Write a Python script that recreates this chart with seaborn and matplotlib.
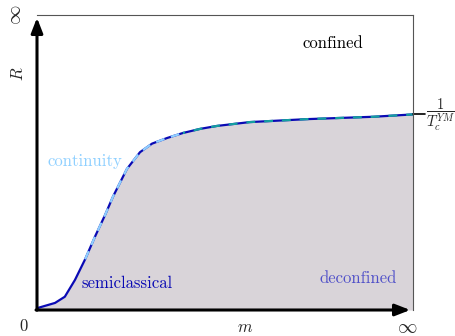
import matplotlib
matplotlib.use("Agg")
import matplotlib.pyplot as plt
import seaborn as sns
import numpy as np

sns.set_style("white")
plt.rcParams['font.family'] = ['serif']
plt.rcParams['font.serif'] = ['cmr10', 'DejaVu Serif']
plt.rcParams['mathtext.fontset'] = 'cm'
plt.rcParams['axes.unicode_minus'] = False

# phase boundary R(m) (axes scaled 0..1)
m_vals = [0.0, 0.005, 0.048, 0.074, 0.101, 0.128, 0.154, 0.181, 0.202, 0.239,
          0.274, 0.306, 0.346, 0.388, 0.434, 0.479, 0.566, 0.718, 0.894, 1.0]
r_vals = [0.005, 0.008, 0.024, 0.045, 0.102, 0.172, 0.248, 0.322, 0.384, 0.478,
          0.535, 0.564, 0.583, 0.600, 0.614, 0.624, 0.637, 0.647, 0.655, 0.663]
m_vals = np.array(m_vals)
r_vals = np.array(r_vals)

fig = plt.figure(figsize=(4.56, 3.36), dpi=100)
ax = fig.add_axes([37 / 456, 26 / 336, 376 / 456, 295 / 336])

ax.fill_between(m_vals, 0, r_vals, color="#d9d4d9", lw=0)
sns.lineplot(x=m_vals, y=r_vals, ax=ax, color="#0a0ab4", lw=1.6, sort=False)

cont = (m_vals >= 0.128) & (m_vals <= 0.40)
ax.plot(m_vals[cont], r_vals[cont], color="#8fd0ff", lw=1.6, ls=(0, (4, 3)))
conf = m_vals >= 0.388
ax.plot(m_vals[conf], r_vals[conf], color="#14a0a0", lw=1.6, ls=(3, (4, 4)))

ax.set_xlim(0, 1)
ax.set_ylim(0, 1)
ax.set_xticks([])
ax.set_yticks([])
for s in ["top", "right"]:
    ax.spines[s].set_color("#555555")
    ax.spines[s].set_linewidth(0.8)
ax.spines["left"].set_visible(False)
ax.spines["bottom"].set_visible(False)

# thick axes with arrows
ax.annotate("", xy=(0, 1.0), xytext=(0, -0.01), xycoords="axes fraction",
            arrowprops=dict(arrowstyle="-|>,head_length=0.9,head_width=0.35",
                            color="black", lw=2.2), annotation_clip=False)
ax.annotate("", xy=(1.0, 0), xytext=(-0.01, 0), xycoords="axes fraction",
            arrowprops=dict(arrowstyle="-|>,head_length=0.9,head_width=0.35",
                            color="black", lw=2.2), annotation_clip=False)

# tick at 1/T_c^YM
ax.plot([1.0, 1.032], [r_vals[-1], r_vals[-1]], color="black", lw=1.2, clip_on=False)
ax.text(1.034, r_vals[-1], r"$\dfrac{1}{T_c^{YM}}$", fontsize=10.5, va="center",
        ha="left", transform=ax.transData)

ax.text(-0.035, -0.03, "0", fontsize=12, ha="center", va="top", transform=ax.transAxes)
ax.text(-0.055, 1.0, r"$\infty$", fontsize=14, ha="center", va="center",
        rotation=90, transform=ax.transAxes)
ax.text(0.985, -0.06, r"$\infty$", fontsize=14, ha="center", va="center",
        transform=ax.transAxes)
ax.text(-0.05, 0.80, r"$R$", fontsize=12, ha="center", va="center", rotation=90,
        transform=ax.transAxes)
ax.text(0.553, -0.06, r"$m$", fontsize=12, ha="center", va="center",
        transform=ax.transAxes)

ax.text(0.787, 0.905, "confined", fontsize=12, ha="center", va="center", color="black")
ax.text(0.128, 0.505, "continuity", fontsize=12, ha="center", va="center", color="#8fd0ff")
ax.text(0.24, 0.09, "semiclassical", fontsize=12, ha="center", va="center", color="#0a0ab4")
ax.text(0.853, 0.108, "deconfined", fontsize=12, ha="center", va="center", color="#5050c8")

fig.savefig("out.png", dpi=100)
